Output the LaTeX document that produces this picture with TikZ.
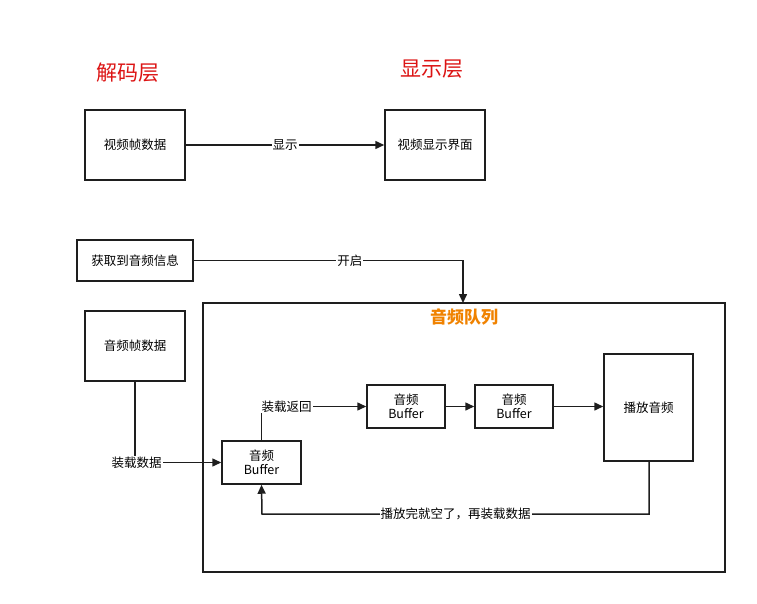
\documentclass[tikz,border=0pt]{standalone}
\usepackage{fontspec}
\setmainfont{Noto Sans CJK SC}
\usetikzlibrary{arrows.meta}
\definecolor{hred}{RGB}{220,20,20}
\definecolor{horange}{RGB}{240,130,0}
\definecolor{ink}{RGB}{30,30,30}
\begin{document}
\begin{tikzpicture}[x=1pt,y=-1pt,
  box/.style={draw=ink,line width=1.5pt,inner sep=0,font=\fontsize{12.5}{14.5}\selectfont,align=center},
  arr/.style={draw=ink,line width=1.5pt,-{Triangle[length=9pt,width=8pt]}},
  lab/.style={fill=white,inner sep=1pt,font=\fontsize{12.5}{14}\selectfont},
  head/.style={text=hred,font=\fontsize{21}{24}\selectfont}]
\useasboundingbox (0,0) rectangle (757,604);
\node[head] (h1) at (128,73) {解码层};
\node[head] (h2) at (432,69) {显示层};
\node[box,minimum width=100pt,minimum height=70pt] (v1) at (135,145) {视频帧数据};
\node[box,minimum width=100pt,minimum height=70pt] (v2) at (435,145) {视频显示界面};
\draw[arr] (v1) -- node[lab]{显示} (v2);
\node[box,minimum width=116pt,minimum height=41pt] (info) at (135,260.5) {获取到音频信息};
\node[draw=ink,line width=1.5pt,minimum width=522pt,minimum height=269pt,inner sep=0] (q) at (464,437.5) {};
\coordinate (qt) at (463,303);
\draw[arr] (info.east) -| node[lab,pos=0.29]{开启} (qt);
\node[text=horange,font=\bfseries\fontsize{17}{19}\selectfont] (qlab) at (464,317) {音频队列};
\node[box,minimum width=100pt,minimum height=70pt] (af) at (135,346) {音频帧数据};
\node[box,minimum width=79pt,minimum height=43pt] (b1) at (261.5,462.5) {音频\\Buffer};
\node[box,minimum width=78pt,minimum height=43pt] (b2) at (406,406.5) {音频\\Buffer};
\node[box,minimum width=78pt,minimum height=43pt] (b3) at (514,406.5) {音频\\Buffer};
\node[box,minimum width=89pt,minimum height=107pt] (play) at (648.5,407.5) {播放音频};
\draw[arr] (af.south) |- node[lab,pos=0.51]{装载数据} (b1.west);
\draw[arr] (b1.north) |- node[lab,pos=0.62]{装载返回} (b2.west);
\draw[arr] (b2) -- (b3);
\draw[arr] (b3) -- (b3 -| play.west);
\coordinate (c1) at (649,514);
\coordinate (c2) at (262,514);
\draw[arr] (play.south -| c1) -- (c1) -- node[lab]{播放完就空了，再装载数据} (c2) -- (b1.south);
\end{tikzpicture}
\end{document}
